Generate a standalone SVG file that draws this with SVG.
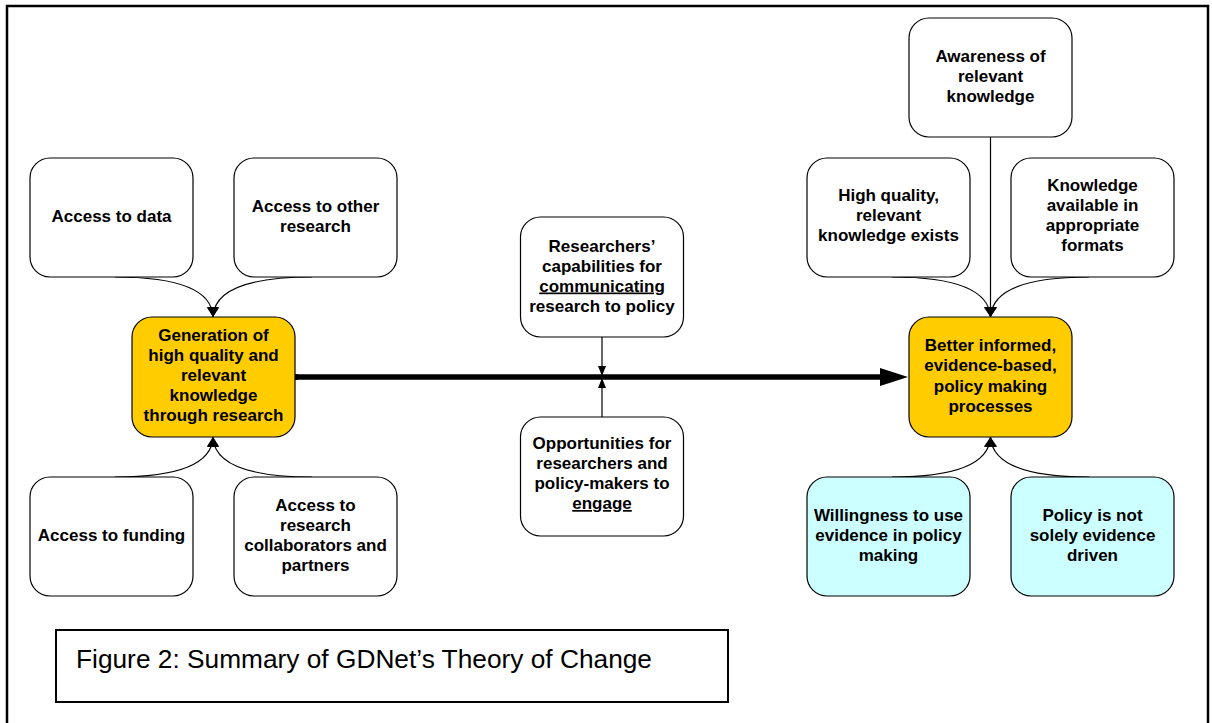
<svg xmlns="http://www.w3.org/2000/svg" width="1212" height="723" viewBox="0 0 1212 723">
<style>
.box{fill:#fff;stroke:#000;stroke-width:1.2}
.y{fill:#FFCC00}
.c{fill:#CCFFFF}
.t{font-family:"Liberation Sans",Arial,sans-serif;font-weight:bold;font-size:17px;fill:#000;text-anchor:middle}
.e{fill:none;stroke:#000;stroke-width:1.2}
</style>
<defs>
<marker id="arr" markerUnits="userSpaceOnUse" viewBox="0 0 10 12" refX="10" refY="6" markerWidth="10" markerHeight="12" orient="auto">
<path d="M0,0 L10,6 L0,12 z" fill="#000"/>
</marker>
<marker id="arrs" markerUnits="userSpaceOnUse" viewBox="0 0 10 8" refX="10" refY="4" markerWidth="10" markerHeight="8" orient="auto">
<path d="M0,0 L10,4 L0,8 z" fill="#000"/>
</marker>
</defs>
<rect x="0" y="0" width="1212" height="723" fill="#fff"/>
<rect x="7" y="6" width="1201" height="730" fill="none" stroke="#000" stroke-width="2.5"/>

<g id="connectors">
<path class="e" d="M115,277 C180,277 212,290 213,317" marker-end="url(#arr)"/>
<path class="e" d="M312,277 C247,277 214,290 213,317" marker-end="url(#arr)"/>
<path class="e" d="M115,477 C180,477 212,464 213,437" marker-end="url(#arr)"/>
<path class="e" d="M312,477 C247,477 214,464 213,437" marker-end="url(#arr)"/>
<path class="e" d="M602,337 L602,376" marker-end="url(#arrs)"/>
<path class="e" d="M602,417 L602,378" marker-end="url(#arrs)"/>
<path class="e" d="M990.5,137 L990.5,317" marker-end="url(#arr)"/>
<path class="e" d="M892,277 C957,277 989,290 990.5,317" marker-end="url(#arr)"/>
<path class="e" d="M1089,277 C1024,277 992,290 990.5,317" marker-end="url(#arr)"/>
<path class="e" d="M892,477 C957,477 989,464 990.5,437" marker-end="url(#arr)"/>
<path class="e" d="M1089,477 C1024,477 992,464 990.5,437" marker-end="url(#arr)"/>
<line x1="296" y1="377" x2="882" y2="377" stroke="#000" stroke-width="5.5"/>
<circle cx="296" cy="377" r="3" fill="#000"/>
<polygon points="880,368 908,377 880,386" fill="#000"/>
</g>

<g id="n_data"><rect class="box" x="30" y="158" width="163" height="119" rx="20"/>
<text class="t" x="111.5" y="222">Access to data</text></g>

<g id="n_other"><rect class="box" x="234" y="158" width="163" height="119" rx="20"/>
<text class="t" x="315.5" y="211.5">Access to other</text><text class="t" x="315.5" y="231.5">research</text></g>

<g id="n_gen"><rect class="box y" x="132" y="317" width="163" height="120" rx="20"/>
<text class="t" x="213.5" y="341">Generation of</text><text class="t" x="213.5" y="361">high quality and</text><text class="t" x="213.5" y="381">relevant</text><text class="t" x="213.5" y="401">knowledge</text><text class="t" x="213.5" y="421">through research</text></g>

<g id="n_funding"><rect class="box" x="30" y="477" width="163" height="119" rx="20"/>
<text class="t" x="111.5" y="540.5">Access to funding</text></g>

<g id="n_collab"><rect class="box" x="234" y="477" width="163" height="119" rx="20"/>
<text class="t" x="315.5" y="510.5">Access to</text><text class="t" x="315.5" y="530.5">research</text><text class="t" x="315.5" y="550.5">collaborators and</text><text class="t" x="315.5" y="570.5">partners</text></g>

<g id="n_researchers"><rect class="box" x="520.5" y="217" width="163" height="120" rx="20"/>
<text class="t" x="602" y="251.5">Researchers’</text><text class="t" x="602" y="271.5">capabilities for</text><text class="t" x="602" y="291.5" text-decoration="underline">communicating</text><text class="t" x="602" y="311.5">research to policy</text></g>

<g id="n_opps"><rect class="box" x="520.5" y="417" width="163" height="119" rx="20"/>
<text class="t" x="602" y="449">Opportunities for</text><text class="t" x="602" y="469">researchers and</text><text class="t" x="602" y="489">policy-makers to</text><text class="t" x="602" y="509" text-decoration="underline">engage</text></g>

<g id="n_awareness"><rect class="box" x="909" y="18" width="163" height="119" rx="20"/>
<text class="t" x="990.5" y="62">Awareness of</text><text class="t" x="990.5" y="82">relevant</text><text class="t" x="990.5" y="102">knowledge</text></g>

<g id="n_highq"><rect class="box" x="807" y="158" width="163" height="119" rx="20"/>
<text class="t" x="888.5" y="200.5">High quality,</text><text class="t" x="888.5" y="220.5">relevant</text><text class="t" x="888.5" y="240.5">knowledge exists</text></g>

<g id="n_formats"><rect class="box" x="1011" y="158" width="163" height="119" rx="20"/>
<text class="t" x="1092.5" y="191">Knowledge</text><text class="t" x="1092.5" y="211">available in</text><text class="t" x="1092.5" y="231">appropriate</text><text class="t" x="1092.5" y="251">formats</text></g>

<g id="n_better"><rect class="box y" x="909" y="317" width="163" height="120" rx="20"/>
<text class="t" x="990.5" y="351">Better informed,</text><text class="t" x="990.5" y="371">evidence-based,</text><text class="t" x="990.5" y="392">policy making</text><text class="t" x="990.5" y="412">processes</text></g>

<g id="n_willing"><rect class="box c" x="807" y="477" width="163" height="119" rx="20"/>
<text class="t" x="888.5" y="520.5">Willingness to use</text><text class="t" x="888.5" y="540.5">evidence in policy</text><text class="t" x="888.5" y="560.5">making</text></g>

<g id="n_policy"><rect class="box c" x="1011" y="477" width="163" height="119" rx="20"/>
<text class="t" x="1092.5" y="520.5">Policy is not</text><text class="t" x="1092.5" y="540.5">solely evidence</text><text class="t" x="1092.5" y="560.5">driven</text></g>

<g id="caption"><rect x="56" y="630" width="672" height="72" fill="#fff" stroke="#000" stroke-width="2"/>
<text x="76" y="668" font-family="'Liberation Sans',Arial,sans-serif" font-size="25" textLength="576" lengthAdjust="spacingAndGlyphs" fill="#000">Figure 2: Summary of GDNet’s Theory of Change</text></g>
</svg>
